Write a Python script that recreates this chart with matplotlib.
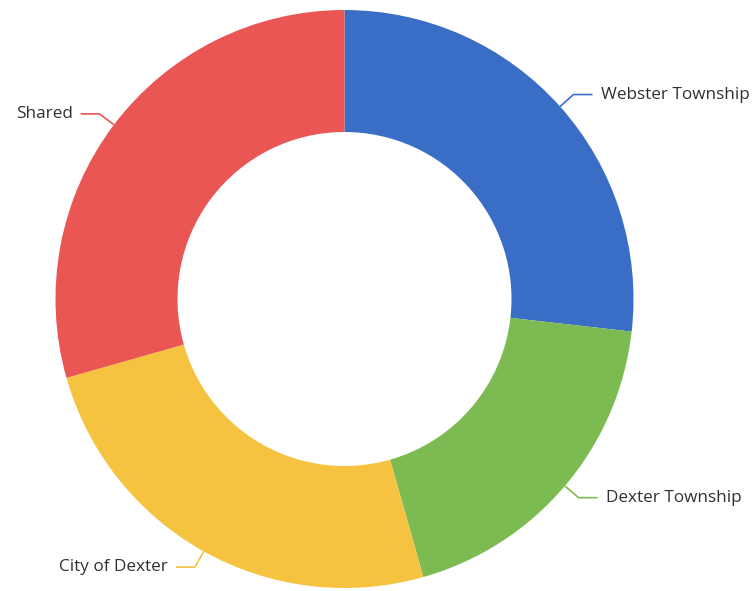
import numpy as np
import matplotlib
matplotlib.use("Agg")
import matplotlib.pyplot as plt

labels = ["Webster Township", "Dexter Township", "City of Dexter", "Shared"]
values = [26.8, 18.8, 25.0, 29.4]
colors = ["#3a6ec6", "#7bbb52", "#f6c340", "#ea5654"]

W, H = 754, 591
fig = plt.figure(figsize=(W / 100, H / 100), dpi=100)
ax = fig.add_axes([0, 0, 1, 1])

cx, cy = 344.5, H - 299
R = 289
inner = 167

wedges, _ = ax.pie(values, colors=colors, startangle=90, counterclock=False,
                   radius=R, center=(cx, cy),
                   wedgeprops=dict(width=R - inner, edgecolor="none", linewidth=0))

ax.set_xlim(0, W)
ax.set_ylim(0, H)
ax.set_aspect("equal")
ax.axis("off")

for w, lab, col in zip(wedges, labels, colors):
    mid = np.deg2rad((w.theta1 + w.theta2) / 2)
    dx, dy = np.cos(mid), np.sin(mid)
    p0 = (cx + R * dx, cy + R * dy)
    p1 = (cx + (R + 18) * dx, cy + (R + 18) * dy)
    side = 1 if dx > 0 else -1
    p2 = (p1[0] + side * 19, p1[1])
    ax.plot([p0[0], p1[0], p2[0]], [p0[1], p1[1], p2[1]], color=col, lw=1.2,
            solid_capstyle="butt")
    ax.text(p2[0] + side * 8, p2[1], lab, ha="left" if side > 0 else "right",
            va="center", fontsize=12.3, color="#303030", family="Open Sans")

fig.savefig("out.png", dpi=100)
